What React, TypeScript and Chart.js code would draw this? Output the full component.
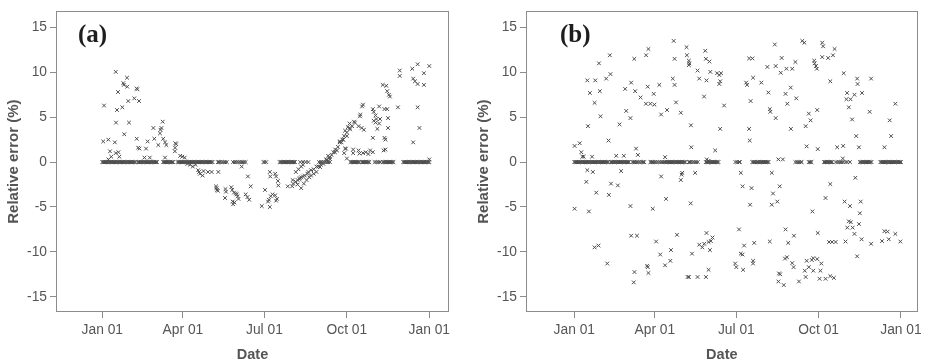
import React, { useEffect, useRef } from 'react';
import { Chart, registerables } from 'chart.js';

Chart.register(...registerables);

// ---------- axis ticks ----------
const tickDays = [0, 90, 181, 273, 365];
const tickLabels = ['Jan 01', 'Apr 01', 'Jul 01', 'Oct 01', 'Jan 01'];
const yTicks = [-15, -10, -5, 0, 5, 10, 15];

// ---------- panel (a) ----------
const aZeroDays = [
  0, 1, 2, 3, 4, 5, 6, 7, 8, 9, 10, 11, 12, 13, 14, 15, 16, 17, 18, 19, 20, 21, 22, 23, 24, 25, 26, 27, 28, 29, 30, 31, 32, 33, 34, 35, 36, 37,
  40, 41, 42, 43, 44, 45, 46, 47, 48, 49, 50, 51, 52, 53, 54, 55, 56, 57, 58, 59, 60, 61,
  68, 69, 70, 71, 72, 73, 74, 75, 76, 77, 78, 79,
  84, 85, 86, 87, 88, 89, 90, 91, 92, 93, 94, 95, 96, 97, 98, 99, 100, 101, 102, 103, 104, 105, 106, 107, 108, 109, 110, 111, 112, 113, 114, 115, 116, 117, 118, 119, 120, 121, 122, 123,
  129, 130, 131, 133, 135, 137, 139,
  146, 148, 150, 152, 154, 156, 158, 160,
  180, 181, 183,
  198, 199, 200, 201, 202, 203, 204, 205, 206, 207, 208, 209, 210, 211, 212, 213, 214, 215,
  221, 224, 227, 230,
  242, 244, 246, 248, 250, 252, 254,
  277, 278, 279, 280, 281, 282, 283, 284, 285, 286, 287,
  290, 291, 292, 293, 294, 295, 296, 297, 298,
  304, 306, 308, 310,
  313, 314, 315, 316, 317, 318, 319, 320, 321, 322, 323, 324, 325,
  336, 337, 338, 339, 340, 341, 342, 343, 344, 345, 346, 347, 348, 349, 350, 351, 352, 353, 354, 355, 356, 357, 358, 359, 360, 361, 362, 363, 364, 365,
];

const aScatter: [number, number][] = [
  [1.9, 6.3], [1, 2.3], [6.7, 2.5], [6.8, 0.3], [8.6, 1.2], [10, 0.6], [14, 2.2], [15, 10.05], [15.3, 4.4], [15, 1.0],
  [16.4, 5.8], [17.5, 7.8], [18, 1.1], [19, 0.6], [22.3, 6.1], [23.4, 8.8], [24, 8.6], [24.5, 3.1], [27.6, 9.4], [27.8, 8.4],
  [29, 6.8], [29.8, 4.4], [35.7, 7.1], [38.4, 8.2], [39, 8.1], [38.4, 2.6], [40, 1.6], [41.5, 1.5], [41, 6.8], [47, 0.5],
  [48.8, 1.5], [50.6, 2.3], [53, 0.5], [57, 3.8], [58, 2.6], [62.5, 1.9], [64.4, 3.2], [65, 3.6], [66, 3.8], [67.4, 4.5],
  [68, 2.6], [70, 2.2], [70, 0.5], [71.5, 1.9], [81.5, 2.1], [82.5, 2.0], [81.2, 1.6], [81, 1.2], [87, 0.7], [89.3, 0.6], [92, 0.5],
  [95, -0.2], [98, -0.3], [101, -0.5], [104, -0.3], [107, -0.9], [108, -1.1], [109, -1.3], [112, -1.5], [113, -1.0], [118, -1.1],
  [122, -1.1], [129.5, -1.1],
  [127, -2.7], [127.5, -2.9], [128, -3.1], [129, -3.2], [137.5, -3.0], [138, -3.3], [137, -4.0], [144, -2.8], [145, -3.1],
  [145.5, -4.4], [146, -4.7], [147, -3.4], [147.5, -4.5], [149, -3.5], [150, -3.6], [151, -3.8], [152, -4.1], [155.6, -0.5],
  [160, -3.6], [162, -3.9], [162.5, -1.6], [164, -4.2], [165.6, -2.7],
  [178, -4.9], [181.6, -3.1], [185, -4.4], [186, -4.2], [187, -5.0], [187, -1.1], [187.5, -1.6], [188, -3.8], [190, -3.6],
  [193, -3.7], [193, -1.3], [194, -1.6], [194, -4.3], [195, -4.1], [196, -2.1], [196.5, -2.6],
  [207, -2.7], [212, -2.7], [212.5, -2.0], [213, -2.4], [216, -1.1], [216, -2.2], [218, -2.0], [218, -2.5], [219, -0.8],
  [220, -1.9], [220.6, -1.8], [222, -0.5], [222, -1.7], [222, -2.9], [224, -0.3], [224, -1.6], [225, -2.4], [226, -1.5],
  [228, -2.0], [229, -1.3], [230, -1.1], [231, -1.7], [233, -1.5], [233, -0.9], [236, -1.3], [236, -0.8], [239, -1.1],
  [239, -0.5], [241, -0.5], [243, -0.55], [244, -0.3], [246.7, -0.2], [250, 0.3], [250.4, 0.2], [252, 0.7], [254, 0.55],
  [254, 0.35], [256, 0.8], [258, 1.1], [259.7, 1.1], [260, 1.4], [262, 1.3], [263, 1.7], [265, 2.2], [265, 2.3], [267, 2.2],
  [268, 2.5], [269, 2.5], [270, 2.9], [270, 1.0], [271, 1.5], [271, 3.5], [272, 1.5], [273, 3.3], [273, 0.4], [273, 2.9],
  [274, 3.9], [276, 3.8], [276, 4.3], [276.5, 3.65], [279, 4.0], [280, 1.0], [280, 1.4], [281, 4.5], [282, 4.4], [286, 4.0],
  [286, 1.3], [287, 0.95], [287.6, 5.1], [288, 5.3], [289.5, 3.8], [290, 6.2], [291, 6.4], [291, 1.0], [292, 3.6], [294, 1.1],
  [297, 0.9], [299, 1.3], [302, 5.9], [302, 2.7], [302, 1.1], [303, 5.6], [303, 4.6], [305, 5.2], [305, 4.4], [306, 4.8],
  [307, 3.7], [309, 4.3], [309, 6.2], [310, 4.8], [313, 8.6], [314, 1.3], [315, 5.9], [315, 2.7], [316, 1.4], [316, 2.5],
  [317, 8.5], [318, 7.9], [318, 5.9], [319, 4.9], [319, 3.8], [320, 7.5], [321, 7.3],
  [330, 6.1], [332, 10.2], [332, 9.6], [346, 10.4], [347, 9.3], [347, 2.2], [349, 9.0], [352, 10.9], [352, 8.7], [352, 6.1],
  [354, 3.8], [359, 9.9], [359, 8.6], [365, 10.7], [365, 0.3],
];

// ---------- panel (b) ----------
const bZeroDays = [
  0, 1, 2, 3, 4, 5, 6, 7, 8, 9, 10, 11, 12, 13, 14, 15, 16, 17, 18, 19, 20, 21, 22, 23, 24, 25, 26, 27, 28, 29, 30, 31, 32, 33, 34, 35, 36, 37, 38,
  41, 42, 43, 44, 45, 46, 47, 48, 49, 50, 51, 52, 53, 54, 55, 56, 57, 58, 59, 60, 61,
  65, 66, 67, 68, 70, 72, 74, 76, 77, 78,
  85, 86, 87, 88, 90, 92, 94, 96, 98,
  100, 101, 102, 103, 104, 105, 106, 107, 108, 109, 110, 111, 112, 113, 114, 115, 116, 117, 118, 119, 120, 121, 122, 123, 124,
  128, 129, 130, 132, 134, 136, 138,
  147, 148, 149, 150, 151, 152, 153, 154, 155, 156, 157, 158, 159, 160, 161,
  180, 182, 184, 185,
  199, 200, 201, 202, 204, 205, 206, 207, 208, 209, 210, 211, 212, 213, 214, 215, 216, 217,
  247, 249, 251, 253, 254,
  262, 263, 264, 265,
  279, 280, 281, 282, 283, 284, 285, 286, 287, 288,
  292, 294, 296, 298, 300,
  303, 305, 308,
  319, 320, 321, 322, 323, 324, 325, 326, 327, 328, 329, 330, 331, 332,
  342, 343, 344, 345, 346, 347, 348, 349, 350, 351, 352, 353, 354, 355, 356, 357, 358, 359, 360, 361, 362, 363, 364, 365,
];

const bScatter: [number, number][] = [
  [111, 13.5], [82.8, 12.6], [80.2, 11.9], [39.7, 11.9], [67, 11.5], [112, 11.5], [27.5, 11.0], [14.5, 9.1], [23.4, 9.1],
  [35.6, 9.3], [40.4, 9.8], [63.5, 8.85], [56.8, 8.15], [68, 7.9], [82, 8.4], [95, 8.6], [110, 9.3], [112, 8.6], [17.4, 7.7],
  [28.5, 7.9], [74, 7.2], [88.7, 7.6], [22.6, 6.6], [80, 6.5], [85, 6.5], [89.5, 6.4], [113.6, 6.65], [58, 5.7], [62.7, 4.9],
  [29.3, 5.1], [97, 5.3], [103.6, 5.8], [119, 5.5], [15.2, 4.0], [50.5, 4.2], [0.3, 1.8], [6, 2.1], [38.2, 2.4], [69, 1.5],
  [7.8, 1.1], [9, 0.6], [71, 0.8], [10.5, 0.6], [19.8, 0.6], [46.8, 0.7], [55.3, 0.7], [101.4, 0.55],
  [14.5, -0.9], [20.7, -1.1], [52.3, -1.0], [13.4, -2.2], [41, -2.4], [48.6, -2.6], [97, -1.6], [120, -1.4], [120.5, -1.2],
  [24.5, -3.4], [38.6, -3.65], [102.5, -4.1], [0.3, -5.2], [16.3, -5.5], [62.7, -4.9], [87.6, -5.2], [63.5, -8.2], [70, -8.2],
  [114.7, -8.1], [22.6, -9.5], [27, -9.3], [91.4, -8.85], [108, -9.8], [36.8, -11.3], [96, -10.3], [101.4, -11.5],
  [107.3, -11.0], [81.3, -11.55], [82, -11.7], [67.2, -12.25], [82.8, -12.35], [66.4, -13.4],
  [224, 13.1], [125.4, 12.8], [146.3, 12.4], [125.8, 11.9], [128, 11.3], [128.5, 11.0], [128, 10.8], [147, 11.5], [151, 11.2],
  [195.3, 11.55], [199, 11.55], [231.7, 11.6], [247, 11.15], [215.7, 10.6], [225, 10.7], [230.6, 9.95], [237, 10.4],
  [243.5, 10.4], [137.7, 10.2], [152, 10.05], [159.5, 9.9], [139.6, 9.3], [147.7, 9.1], [162, 9.7], [164, 9.9], [163, 9.0],
  [162, 8.7], [199.7, 9.4], [192, 8.85], [193, 8.6], [209, 8.85], [241.8, 8.3], [216.8, 7.75], [236, 7.6], [248, 7.1],
  [145, 7.3], [238, 6.5], [167.4, 6.3], [197, 6.8], [218.4, 5.9], [219, 5.6], [225, 4.9], [130.3, 4.1], [163, 3.7],
  [195.3, 3.7], [242, 3.7], [196, 2.4], [130.7, 1.65], [157.4, 1.3], [148, 0.3], [150, 0.15], [228, 0.3], [233, 0.3],
  [119, -2.0], [135, -1.2], [186, -1.2], [220.6, -1.2], [188, -2.7], [198, -2.9], [229.5, -2.7], [222, -3.5], [226.8, -4.4],
  [220.6, -4.75], [130, -4.6], [196.4, -4.75], [184, -7.5], [236, -7.5], [147.7, -7.9], [154.4, -8.4], [152.6, -8.8],
  [150, -8.9], [145.2, -9.1], [139.6, -9.2], [143, -9.5], [151.5, -9.8], [131.5, -10.2], [245.4, -8.2], [239, -9.0],
  [218.4, -8.85], [201, -9.0], [189.7, -9.3], [186, -10.2], [188, -10.3], [199.7, -11.0], [199.7, -11.3], [179.7, -11.3],
  [181, -11.7], [188.6, -12.0], [235.4, -10.75], [237.6, -10.6], [243.5, -11.25], [245, -11.7], [228.7, -12.4], [230, -12.5],
  [228, -13.3], [234, -13.7], [150, -12.0], [126.6, -12.8], [128, -12.8], [137.7, -12.8], [147, -12.8],
  [254.7, 13.5], [257, 13.3], [277, 13.3], [278, 12.9], [290.8, 12.6], [277, 11.7], [283.6, 11.6], [289, 11.9], [268, 11.3],
  [268.5, 11.0], [270, 10.7], [271, 10.4], [301, 9.9], [286, 9.0], [316, 9.3], [316.5, 8.7], [331.6, 9.3], [304.8, 7.7],
  [304, 7.0], [308.6, 7.0], [313, 7.5], [321.5, 7.7], [306.7, 6.1], [330, 5.6], [358.7, 6.5], [271.4, 5.8], [262, 5.4],
  [264, 4.65], [258.5, 4.0], [310.4, 4.75], [352.4, 4.65], [315, 2.9], [354, 2.9], [259.6, 1.75], [272, 1.45], [293.7, 1.65],
  [300.4, 1.8], [318, 1.65], [346.5, 1.65], [300, 0.4],
  [314, -1.75], [286, -2.45], [280.7, -4.0], [302, -4.4], [308, -4.9], [320, -4.4], [266, -5.5], [319, -5.7], [306.7, -6.6],
  [309, -6.7], [305, -7.3], [311, -7.3], [318, -6.9], [313, -8.0], [321, -8.6], [272, -7.9], [284.6, -8.9], [288, -8.9],
  [292, -8.9], [303, -8.85], [331.6, -9.1], [343.8, -8.8], [351.3, -8.6], [350, -7.75], [346.5, -7.7], [358.7, -8.0],
  [364.3, -8.85], [316, -10.5],
  [259.6, -11.0], [265.3, -10.9], [267, -10.7], [271.4, -10.8], [276, -11.3], [262, -11.7], [257.5, -12.1], [267, -12.1],
  [275, -12.1], [258.5, -12.8], [251, -13.3], [274, -13.0], [280.7, -13.0], [286, -12.7], [290, -12.9],
];

const W = 463;
const H = 364;

type Panel = {
  zero: number[];
  scatter: [number, number][];
  label: string;
  areaLeft: number;
  areaRight: number;
  xMin: number;
  xMax: number;
  titlePad: number;
  labelX: number;
  labelY: number;
};

const panels: Panel[] = [
  { zero: aZeroDays, scatter: aScatter, label: '(a)', areaLeft: 56, areaRight: 449, xMin: -51.7, xMax: 387, titlePad: 4.5, labelX: 78, labelY: 36 },
  { zero: bZeroDays, scatter: bScatter, label: '(b)', areaLeft: 63, areaRight: 456, xMin: -54, xMax: 383.6, titlePad: 11.5, labelX: 97, labelY: 36 },
];

const framePlugin = {
  id: 'frameLabel',
  afterDraw(chart: any, _args: any, opts: any) {
    const { ctx, chartArea } = chart;
    const { left, top, right, bottom } = chartArea;
    ctx.save();
    ctx.strokeStyle = '#8c8c8c';
    ctx.lineWidth = 1;
    ctx.strokeRect(Math.round(left) + 0.5, Math.round(top) + 0.5, Math.round(right - left) - 1, Math.round(bottom - top) - 1);
    ctx.font = 'bold 25px "Liberation Serif", "Times New Roman", serif';
    ctx.fillStyle = '#1e1e1e';
    ctx.textBaseline = 'middle';
    ctx.textAlign = 'left';
    ctx.fillText(opts.label, opts.labelX, opts.labelY);
    ctx.restore();
  },
};

function ScatterPanel({ p }: { p: Panel }) {
  const ref = useRef<HTMLCanvasElement | null>(null);
  useEffect(() => {
    if (!ref.current) return;
    const pts = [
      ...p.zero.map((d) => ({ x: d, y: 0 })),
      ...p.scatter.map(([d, v]) => ({ x: d, y: v })),
    ];
    const tickFont = { family: '"Liberation Sans", Arial, sans-serif', size: 13.8 };
    const xTitleFont = { family: '"Liberation Sans", Arial, sans-serif', size: 14.5, weight: 'bold' as const };
    const yTitleFont = { family: '"Liberation Sans", Arial, sans-serif', size: 15, weight: 'bold' as const };
    const chart = new Chart(ref.current, {
      type: 'scatter',
      data: {
        datasets: [
          {
            data: pts,
            pointStyle: 'crossRot',
            pointRadius: 2.6,
            pointHoverRadius: 2.6,
            borderColor: '#4d4d4d',
            backgroundColor: 'rgba(0,0,0,0)',
            pointBorderWidth: 1,
          },
        ],
      },
      options: {
        animation: false,
        responsive: false,
        devicePixelRatio: 1,
        layout: { padding: { left: 0, top: 7, right: W - p.areaRight, bottom: 0 } },
        plugins: {
          legend: { display: false },
          tooltip: { enabled: false },
          frameLabel: { label: p.label, labelX: p.labelX, labelY: p.labelY },
        } as any,
        scales: {
          x: {
            type: 'linear',
            min: p.xMin,
            max: p.xMax,
            afterBuildTicks: (scale: any) => {
              scale.ticks = tickDays.map((v) => ({ value: v }));
            },
            afterFit: (scale: any) => {
              scale.height = H - 312;
            },
            ticks: {
              autoSkip: false,
              maxRotation: 0,
              padding: 4,
              color: '#555555',
              font: tickFont,
              callback: (_v: any, i: number) => tickLabels[i],
            },
            grid: { drawOnChartArea: false, drawTicks: true, tickLength: 6, color: '#8c8c8c' },
            border: { display: false },
            title: { display: true, text: 'Date', color: '#555555', font: xTitleFont, padding: { top: 0, bottom: 0.5 } },
          },
          y: {
            type: 'linear',
            min: -16.7,
            max: 16.8,
            afterBuildTicks: (scale: any) => {
              scale.ticks = yTicks.map((v) => ({ value: v }));
            },
            afterFit: (scale: any) => {
              scale.width = p.areaLeft;
            },
            ticks: {
              autoSkip: false,
              padding: 3,
              color: '#555555',
              font: tickFont,
              callback: (v: any) => String(v),
            },
            grid: { drawOnChartArea: false, drawTicks: true, tickLength: 6, color: '#8c8c8c' },
            border: { display: false },
            title: { display: true, text: 'Relative error (%)', color: '#555555', font: yTitleFont, padding: { top: p.titlePad, bottom: 0 } },
          },
        },
      },
      plugins: [framePlugin],
    } as any);
    return () => chart.destroy();
  }, [p]);
  return <canvas ref={ref} width={W} height={H} style={{ width: W, height: H, display: 'block' }} />;
}

export default function App() {
  return (
    <div style={{ position: 'absolute', left: 0, top: 0, width: 926, height: 364, background: '#ffffff', display: 'flex' }}>
      {panels.map((p) => (
        <ScatterPanel key={p.label} p={p} />
      ))}
    </div>
  );
}
